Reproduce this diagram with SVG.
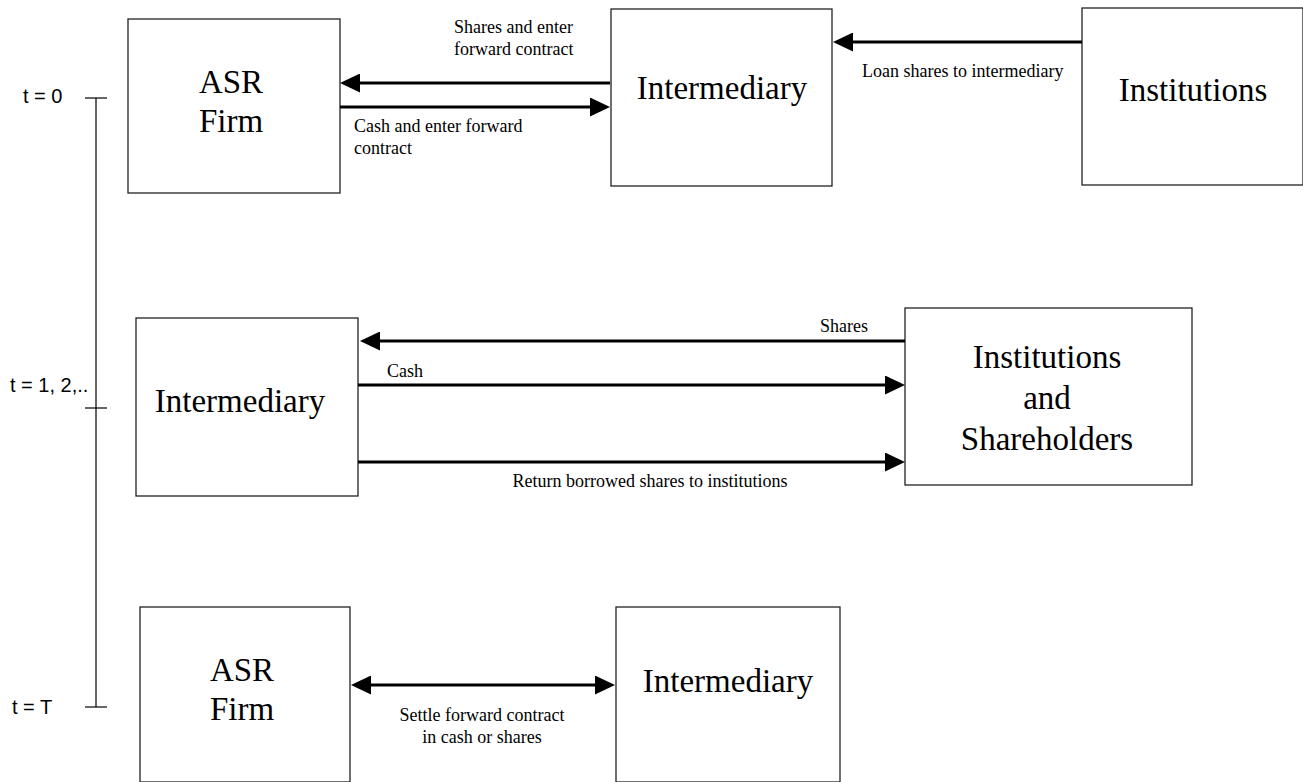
<svg xmlns="http://www.w3.org/2000/svg" width="1303" height="782" viewBox="0 0 1303 782">
<defs>
<style>
.box{fill:#fff;stroke:#222;stroke-width:1.3}
.node{font-family:"Liberation Serif","Times New Roman",serif;font-size:33px;fill:#000;text-anchor:middle}
.lbl{font-family:"Liberation Serif","Times New Roman",serif;font-size:18px;fill:#000}
.tl{font-family:"Liberation Sans",Arial,sans-serif;font-size:20px;fill:#000}
.arr{stroke:#000;stroke-width:3;fill:none}
.axis{stroke:#000;stroke-width:1.2;fill:none}
</style>
<marker id="ah" viewBox="0 0 20 19" refX="0" refY="9.5" markerWidth="20" markerHeight="19" markerUnits="userSpaceOnUse" orient="auto-start-reverse">
<path d="M0,0 L20,9.5 L0,19 z" fill="#000"/>
</marker>
</defs>
<rect width="1303" height="782" fill="#fff"/>

<g id="timeline">
<line class="axis" x1="96" y1="98" x2="96" y2="707"/>
<line class="axis" x1="85" y1="98" x2="107" y2="98"/>
<line class="axis" x1="85" y1="408" x2="107" y2="408"/>
<line class="axis" x1="85" y1="707" x2="107" y2="707"/>
<text class="tl" x="23" y="103">t = 0</text>
<text class="tl" x="10" y="392">t = 1, 2,..</text>
<text class="tl" x="12" y="714">t = T</text>
</g>

<g id="asr-firm-top">
<rect class="box" x="128" y="19" width="212" height="174"/>
<text class="node" x="231" y="93">ASR</text>
<text class="node" x="231" y="132">Firm</text>
</g>

<g id="intermediary-top">
<rect class="box" x="611" y="9" width="221" height="177"/>
<text class="node" x="722" y="99">Intermediary</text>
</g>

<g id="institutions-top">
<rect class="box" x="1082" y="8" width="221" height="177"/>
<text class="node" x="1193" y="101">Institutions</text>
</g>

<g id="intermediary-mid">
<rect class="box" x="136" y="318" width="222" height="178"/>
<text class="node" x="240" y="412">Intermediary</text>
</g>

<g id="institutions-shareholders">
<rect class="box" x="905" y="308" width="287" height="177"/>
<text class="node" x="1047" y="368">Institutions</text>
<text class="node" x="1047" y="409">and</text>
<text class="node" x="1047" y="450">Shareholders</text>
</g>

<g id="asr-firm-bottom">
<rect class="box" x="140" y="607" width="210" height="175"/>
<text class="node" x="242" y="681">ASR</text>
<text class="node" x="242" y="720">Firm</text>
</g>

<g id="intermediary-bottom">
<rect class="box" x="616" y="607" width="224" height="175"/>
<text class="node" x="728" y="692">Intermediary</text>
</g>

<g id="connectors">
<line class="arr" x1="610" y1="83" x2="360" y2="83" marker-end="url(#ah)"/>
<line class="arr" x1="340" y1="107" x2="590" y2="107" marker-end="url(#ah)"/>
<line class="arr" x1="1082" y1="42" x2="853" y2="42" marker-end="url(#ah)"/>
<line class="arr" x1="905" y1="341" x2="380" y2="341" marker-end="url(#ah)"/>
<line class="arr" x1="358" y1="385" x2="885" y2="385" marker-end="url(#ah)"/>
<line class="arr" x1="358" y1="462" x2="885" y2="462" marker-end="url(#ah)"/>
<line class="arr" x1="371" y1="685" x2="595" y2="685" marker-start="url(#ah)" marker-end="url(#ah)"/>
</g>

<g id="labels">
<text class="lbl" x="454" y="33">Shares and enter</text>
<text class="lbl" x="454" y="55">forward contract</text>
<text class="lbl" x="354" y="132">Cash and enter forward</text>
<text class="lbl" x="354" y="154">contract</text>
<text class="lbl" x="862" y="77">Loan shares to intermediary</text>
<text class="lbl" x="868" y="332" text-anchor="end">Shares</text>
<text class="lbl" x="387" y="377">Cash</text>
<text class="lbl" x="650" y="487" text-anchor="middle">Return borrowed shares to institutions</text>
<text class="lbl" x="482" y="721" text-anchor="middle">Settle forward contract</text>
<text class="lbl" x="482" y="743" text-anchor="middle">in cash or shares</text>
</g>
</svg>
